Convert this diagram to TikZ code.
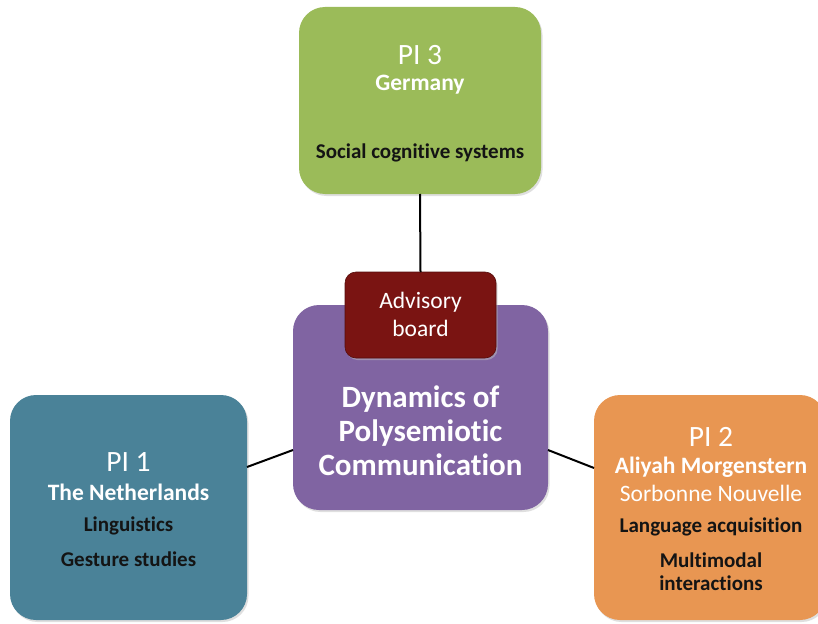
\documentclass[tikz,border=0pt]{standalone}
\usepackage{fontspec}
\setmainfont[Ligatures=NoCommon]{Carlito}
\definecolor{pgreen}{RGB}{155,187,89}
\definecolor{ppurple}{RGB}{128,100,162}
\definecolor{pteal}{RGB}{74,130,152}
\definecolor{porange}{RGB}{232,150,82}
\definecolor{pmaroon}{RGB}{122,20,18}
\definecolor{ptext}{RGB}{20,20,20}
\tikzset{
  bigbox/.style={rectangle, rounded corners=26pt, inner sep=0pt, outer sep=0pt},
  advbox/.style={rectangle, rounded corners=11pt, inner sep=0pt, outer sep=0pt, draw=pmaroon!70!black, line width=0.6pt},
  shadowed/.style={preaction={fill=black!25, opacity=0.5, transform canvas={xshift=1.5pt,yshift=-2pt}}},
  conn/.style={draw=black, line width=2pt},
  pilabel/.style={text=white, font=\fontsize{29.5}{29.5}\selectfont, inner sep=0pt},
  namelabel/.style={text=white, font=\bfseries\fontsize{23.5}{23.5}\selectfont, inner sep=0pt},
  reglabel/.style={text=white, font=\fontsize{23.5}{23.5}\selectfont, inner sep=0pt},
  sublabel/.style={text=ptext, font=\bfseries\fontsize{21}{21}\selectfont, inner sep=0pt},
  centerlabel/.style={text=white, font=\bfseries\fontsize{31}{34}\selectfont, align=center, inner sep=0pt},
  advlabel/.style={text=white, font=\fontsize{23.5}{28}\selectfont, align=center, inner sep=0pt}
}
\begin{document}
\begin{tikzpicture}[x=1pt,y=-1pt]
\useasboundingbox (0,0) rectangle (818,623);
\clip (0,0) rectangle (818,623);
% boxes
\node[bigbox, shadowed, fill=pgreen, minimum width=242pt, minimum height=187pt] (pi3) at (420,100.5) {};
\node[bigbox, shadowed, fill=ppurple, minimum width=255pt, minimum height=205pt] (center) at (420.5,407.5) {};
\node[bigbox, shadowed, fill=pteal, minimum width=237pt, minimum height=225pt] (pi1) at (128.5,507.5) {};
\node[bigbox, shadowed, fill=porange, minimum width=232pt, minimum height=225pt] (pi2) at (710,507.5) {};
\node[advbox, shadowed, fill=pmaroon, minimum width=151pt, minimum height=86pt] (adv) at (420.5,315) {};
% connectors
\draw[conn] (pi3.south) -- (adv.north);
\draw[conn] ([yshift=40.5pt]pi1.east) -- ([yshift=-42.5pt]center.west);
\draw[conn] ([yshift=-42.5pt]center.east) -- ([yshift=39.5pt]pi2.west);
% PI 3 texts
\node[pilabel] (t3a) at (420,55) {PI 3};
\node[namelabel] (t3b) at (420,85) {Germany};
\node[sublabel] (t3c) at (420,153) {Social cognitive systems};
% center texts
\node[advlabel] (tadv) at (420.5,314) {Advisory\\board};
\node[centerlabel] (tc) at (420.5,431) {Dynamics of\\Polysemiotic\\Communication};
% PI 1 texts
\node[pilabel] (t1a) at (128.5,462) {PI 1};
\node[namelabel] (t1b) at (128.5,492) {The Netherlands};
\node[sublabel] (t1c) at (128.5,526) {Linguistics};
\node[sublabel] (t1d) at (128.5,559) {Gesture studies};
% PI 2 texts
\node[pilabel] (t2a) at (711,437) {PI 2};
\node[namelabel] (t2b) at (711,467) {Aliyah Morgenstern};
\node[reglabel] (t2c) at (711,493) {Sorbonne Nouvelle};
\node[sublabel] (t2d) at (711,527) {Language acquisition};
\node[sublabel] (t2e) at (711,560) {Multimodal};
\node[sublabel] (t2f) at (711,583) {interactions};
\end{tikzpicture}
\end{document}
